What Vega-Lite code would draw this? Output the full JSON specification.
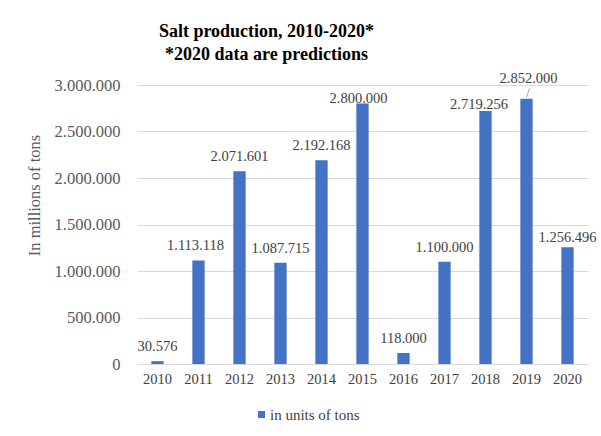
{
  "$schema": "https://vega.github.io/schema/vega-lite/v6.json",
  "autosize": {"type": "none"},
  "width": 451,
  "height": 279,
  "padding": {"left": 137, "top": 85, "right": 13, "bottom": 72},
  "background": "white",
  "config": {
    "locale": {"number": {"decimal": ",", "thousands": ".", "grouping": [3], "currency": ["", " €"]}},
    "view": {"stroke": null},
    "font": "Liberation Serif"
  },
  "title": {
    "text": ["Salt production, 2010-2020*", "*2020 data are predictions"],
    "font": "Liberation Serif",
    "fontSize": 18,
    "fontWeight": "bold",
    "color": "#000000",
    "anchor": "middle",
    "frame": "group",
    "dx": -96,
    "offset": 7,
    "lineHeight": 23
  },
  "data": {
    "values": [
      {"Year": "2010", "Value": 30576},
      {"Year": "2011", "Value": 1113118},
      {"Year": "2012", "Value": 2071601},
      {"Year": "2013", "Value": 1087715},
      {"Year": "2014", "Value": 2192168},
      {"Year": "2015", "Value": 2800000},
      {"Year": "2016", "Value": 118000},
      {"Year": "2017", "Value": 1100000},
      {"Year": "2018", "Value": 2719256},
      {"Year": "2019", "Value": 2852000},
      {"Year": "2020", "Value": 1256496}
    ]
  },
  "encoding": {
    "x": {
      "field": "Year",
      "type": "ordinal",
      "scale": {"paddingInner": 0.7, "paddingOuter": 0.35},
      "axis": {
        "title": null,
        "labelAngle": 0,
        "ticks": false,
        "domainColor": "#d9d9d9",
        "labelColor": "#404040",
        "labelFont": "Liberation Serif",
        "labelFontSize": 14.5,
        "labelPadding": 8
      }
    },
    "y": {
      "field": "Value",
      "type": "quantitative",
      "scale": {"domain": [0, 3000000], "nice": false},
      "axis": {
        "title": "In millions of tons",
        "values": [0, 500000, 1000000, 1500000, 2000000, 2500000, 3000000],
        "format": ",d",
        "domain": false,
        "ticks": false,
        "gridColor": "#d9d9d9",
        "labelColor": "#595959",
        "labelFont": "Liberation Serif",
        "labelFontSize": 16.5,
        "labelPadding": 17,
        "titleFont": "Liberation Serif",
        "titleFontSize": 16.5,
        "titleFontWeight": "normal",
        "titleColor": "#595959",
        "titleX": -103,
        "titleY": 110,
        "titleAngle": -90,
        "titleAlign": "center",
        "titleBaseline": "middle"
      }
    }
  },
  "layer": [
    {
      "mark": {"type": "bar", "color": "#4472C4"},
      "encoding": {
        "color": {
          "datum": "in units of tons",
          "scale": {"range": ["#4472C4"]},
          "legend": {
            "title": null,
            "orient": "none",
            "legendX": 117,
            "legendY": 322,
            "symbolType": "square",
            "symbolSize": 49,
            "symbolStrokeWidth": 0,
            "labelFont": "Liberation Serif",
            "labelFontSize": 15,
            "labelColor": "#404040",
            "labelOffset": 1,
            "padding": 0
          }
        }
      }
    },
    {
      "transform": [{"filter": "indexof(['2015','2018','2019','2020','2011'], datum.Year) < 0"}],
      "mark": {"type": "text", "baseline": "middle", "dy": -14, "fontSize": 14.5, "font": "Liberation Serif", "color": "#404040"},
      "encoding": {"text": {"field": "Value", "type": "quantitative", "format": ",d"}}
    },
    {
      "transform": [{"filter": "datum.Year == '2011'"}],
      "mark": {"type": "text", "baseline": "middle", "dy": -14, "dx": -3, "fontSize": 14.5, "font": "Liberation Serif", "color": "#404040"},
      "encoding": {"text": {"field": "Value", "type": "quantitative", "format": ",d"}}
    },
    {
      "transform": [{"filter": "datum.Year == '2015'"}],
      "mark": {"type": "text", "baseline": "middle", "dy": -5, "dx": -4, "fontSize": 14.5, "font": "Liberation Serif", "color": "#404040"},
      "encoding": {"text": {"field": "Value", "type": "quantitative", "format": ",d"}}
    },
    {
      "transform": [{"filter": "datum.Year == '2018'"}],
      "mark": {"type": "text", "baseline": "middle", "dy": -6, "dx": -6.5, "fontSize": 14.5, "font": "Liberation Serif", "color": "#404040"},
      "encoding": {"text": {"field": "Value", "type": "quantitative", "format": ",d"}}
    },
    {
      "transform": [{"filter": "datum.Year == '2019'"}],
      "mark": {"type": "text", "baseline": "middle", "dy": -20, "dx": 2, "fontSize": 14.5, "font": "Liberation Serif", "color": "#404040"},
      "encoding": {"text": {"field": "Value", "type": "quantitative", "format": ",d"}}
    },
    {
      "transform": [{"filter": "datum.Year == '2020'"}],
      "mark": {"type": "text", "baseline": "middle", "dy": -9, "fontSize": 14.5, "font": "Liberation Serif", "color": "#404040"},
      "encoding": {"text": {"field": "Value", "type": "quantitative", "format": ",d"}}
    },
    {
      "transform": [{"filter": "datum.Year == '2019'"}],
      "mark": {"type": "rule", "color": "#a6a6a6", "strokeWidth": 1, "xOffset": 0, "x2Offset": 3},
      "encoding": {
        "x2": {"field": "Year"},
        "y": {"datum": 2865000},
        "y2": {"datum": 2965000}
      }
    }
  ]
}
